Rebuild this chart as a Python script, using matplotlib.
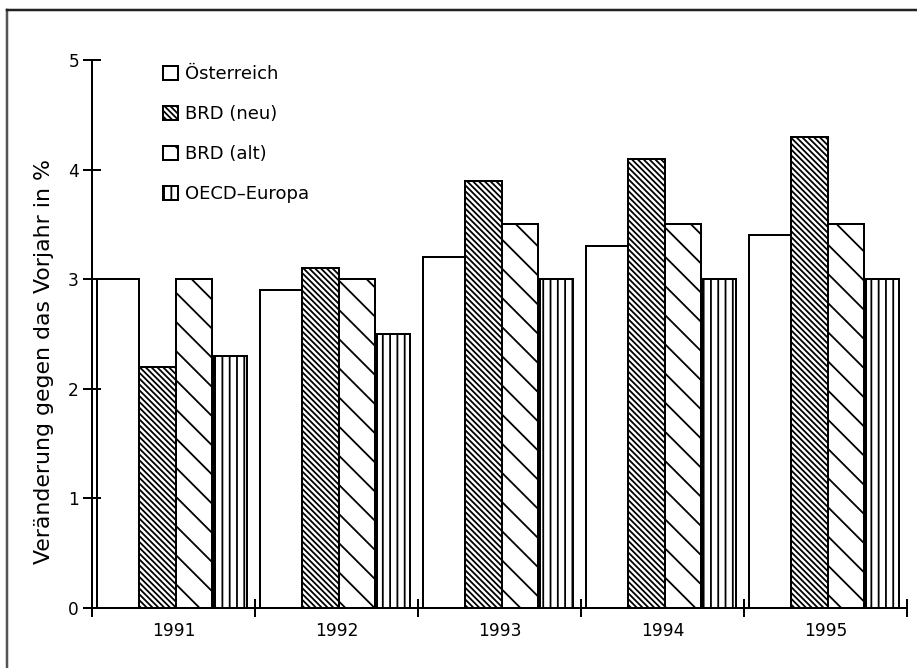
import matplotlib
matplotlib.use("Agg")
import matplotlib.pyplot as plt
import numpy as np
from matplotlib.lines import Line2D

# data
years = ["1991", "1992", "1993", "1994", "1995"]
oesterreich = [3.0, 2.9, 3.2, 3.3, 3.4]
brd_neu = [2.2, 3.1, 3.9, 4.1, 4.3]
brd_alt = [3.0, 3.0, 3.5, 3.5, 3.5]
oecd_europa = [2.3, 2.5, 3.0, 3.0, 3.0]
series_names = ["Österreich", "BRD (neu)", "BRD (alt)", "OECD\u2013Europa"]

DPI = 175  # high dpi so the hatch spacing gets coarser in pixels
def pt(px):
    return px * 72.0 / DPI

plt.rcParams['font.family'] = ['DejaVu Sans']
plt.rcParams['hatch.linewidth'] = pt(1.8)
plt.rcParams['hatch.color'] = 'black'

fig = plt.figure(figsize=(917 / DPI, 668 / DPI), dpi=DPI)
ax = fig.add_axes([92 / 917, 60 / 668, 815 / 917, 548 / 668])

x = np.arange(len(years))
# left edge offset and width of each bar inside a group (group spans -0.5..0.5)
lefts = [-0.47, -0.21, 0.015, 0.25]
widths = [0.26, 0.225, 0.221, 0.20]
hatches = [None, '\\' * 10, '\\\\', '||||']
values = [oesterreich, brd_neu, brd_alt, oecd_europa]

handles = []
for vals, l, w, h, name in zip(values, lefts, widths, hatches, series_names):
    b = ax.bar(x + l, vals, width=w, align='edge', color='white',
               edgecolor='black', linewidth=pt(2), hatch=h, label=name)
    handles.append(b)

ax.set_xlim(-0.5, len(years) - 0.5)
ax.set_ylim(0, 5)
ax.spines['top'].set_visible(False)
ax.spines['right'].set_visible(False)
ax.spines['left'].set_linewidth(pt(2))
ax.spines['bottom'].set_linewidth(pt(2))

ax.set_yticks([0, 1, 2, 3, 4, 5])
ax.tick_params(axis='y', direction='inout', length=pt(18), width=pt(2),
               labelsize=pt(17), pad=pt(4))
ax.set_xticks(np.arange(len(years) + 1) - 0.5)
ax.set_xticklabels([])
ax.set_xticks(x, minor=True)
ax.set_xticklabels(years, minor=True)
ax.tick_params(axis='x', which='major', direction='inout', length=pt(18),
               width=pt(2))
ax.tick_params(axis='x', which='minor', length=0, labelsize=pt(17),
               pad=pt(14))

ax.set_ylabel("Veränderung gegen das Vorjahr in %", fontsize=pt(22))
ax.yaxis.set_label_coords(-0.047, 0.45)

leg = ax.legend(handles=handles, loc='upper left',
                bbox_to_anchor=(0.076, 1.007), frameon=False,
                fontsize=pt(18), handlelength=0.85, handleheight=0.85,
                handletextpad=0.35, labelspacing=1.22, borderpad=0)

# scanned page frame
fig.add_artist(Line2D([7 / 917, 7 / 917], [0, 1 - 10 / 668],
                      transform=fig.transFigure, color='#555555',
                      linewidth=pt(2.5)))
fig.add_artist(Line2D([7 / 917, 1], [1 - 10 / 668, 1 - 10 / 668],
                      transform=fig.transFigure, color='#222222',
                      linewidth=pt(2.5)))

fig.savefig("out.png", dpi=DPI)
